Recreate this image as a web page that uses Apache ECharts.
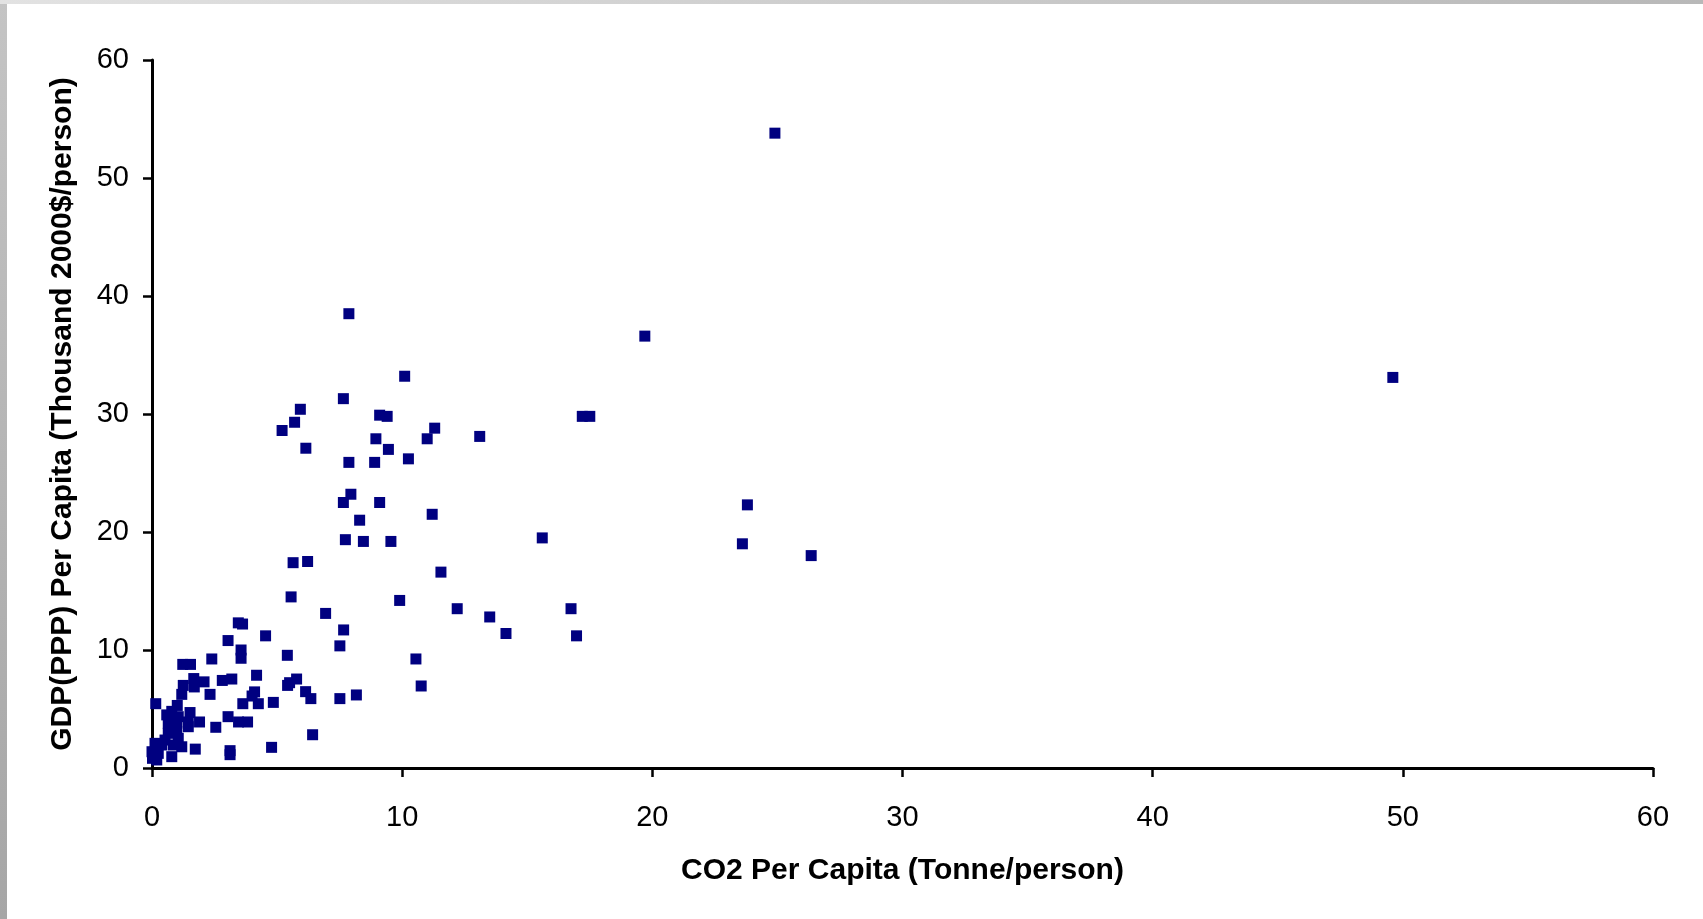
<!DOCTYPE html>
<html>
<head>
<meta charset="utf-8">
<script src="https://cdn.jsdelivr.net/npm/echarts@6/dist/echarts.min.js"></script>
<style>
  html, body { margin: 0; padding: 0; }
  body {
    width: 1703px; height: 919px; overflow: hidden;
    background:
      linear-gradient(to right, #e2e2e2, #b8b8b8) top left / 100% 4px no-repeat,
      linear-gradient(to bottom, #c4c4c4, #a6a6a6) top left / 7px 100% no-repeat,
      #ffffff;
  }
  #scatterChart { width: 1703px; height: 919px; }
</style>
</head>
<body>
<div id="scatterChart"></div>
<script>
// CO2 per capita (tonne/person) vs GDP(PPP) per capita (thousand 2000$/person)
const co2PerCapita = [
  24.9, 49.6, 19.7, 7.87, 10.1, 23.8, 23.6, 26.35, 15.6, 13.1,
  17.2, 17.5, 11.3, 11.0, 10.25, 9.45, 9.4, 9.1, 8.95, 8.9,
  7.87, 7.65, 5.93, 5.7, 5.2, 6.15, 9.1, 7.95, 7.65, 8.3,
  11.2, 7.73, 8.45, 9.55, 5.64, 6.22, 11.55, 5.56, 9.9, 6.94,
  12.2, 13.5, 14.15, 16.75, 16.97, 7.66, 7.51, 10.55, 10.76, 3.45,
  3.62, 4.54, 3.04, 3.56, 3.56, 5.41, 2.39, 1.23, 1.54, 1.67,
  1.25, 1.69, 2.08, 2.81, 3.19, 4.18, 5.42, 5.5, 5.78, 6.14,
  6.35, 7.51, 8.17, 4.1, 4.0, 4.25, 3.63, 4.85, 2.32, 1.19,
  1.01, 0.15, 3.04, 3.46, 3.82, 2.55, 1.52, 1.9, 1.45, 1.45,
  6.42, 1.73, 3.12, 3.12, 4.78, 0.59, 0.79, 1.05, 0.65, 0.99,
  0.65, 0.99, 1.05, 0.52, 0.12, 0.39, 0.85, 1.19, 0.0, 0.25,
  0.79, 0.02, 0.19, 0.79
];
const gdpPerCapita = [
  53.8, 33.1, 36.6, 38.5, 33.2, 22.3, 19.0, 18.0, 19.5, 28.1,
  29.8, 29.8, 28.8, 27.9, 26.2, 27.0, 29.8, 29.9, 27.9, 25.9,
  25.9, 31.3, 30.4, 29.3, 28.6, 27.1, 22.5, 23.2, 22.5, 21.0,
  21.5, 19.35, 19.2, 19.2, 17.4, 17.5, 16.6, 14.5, 14.2, 13.1,
  13.5, 12.8, 11.4, 13.5, 11.2, 11.7, 10.35, 9.24, 6.95, 12.3,
  12.2, 11.2, 10.8, 10.0, 9.3, 9.55, 9.24, 8.78, 8.78, 7.58,
  7.0, 6.87, 7.3, 7.42, 7.54, 7.86, 7.0, 7.23, 7.54, 6.47,
  5.88, 5.88, 6.19, 6.45, 6.1, 5.45, 5.45, 5.56, 6.24, 6.24,
  5.3, 5.45, 4.35, 3.9, 3.9, 3.45, 4.7, 3.9, 3.9, 3.5,
  2.82, 1.6, 1.47, 1.13, 1.75, 4.5, 4.13, 4.35, 3.79, 3.79,
  2.94, 3.08, 2.52, 2.37, 2.09, 1.95, 1.95, 1.8, 1.38, 1.24,
  0.96, 0.82, 0.68, 4.8
];
const axisTicks = [0, 10, 20, 30, 40, 50, 60];

const points = co2PerCapita.map((x, i) => [x, gdpPerCapita[i]]);

const fontFamily = '"Liberation Sans", Arial, sans-serif';
const axisLineStyle = { color: '#000000', width: 3 };

let scatterChart = echarts.init(document.getElementById('scatterChart'));
scatterChart.setOption({
  animation: false,
  backgroundColor: 'transparent',
  grid: {
    left: 152,
    right: 50,
    top: 60,
    bottom: 151
  },
  xAxis: {
    type: 'value',
    min: axisTicks[0],
    max: axisTicks[axisTicks.length - 1],
    interval: 10,
    name: 'CO2 Per Capita (Tonne/person)',
    nameLocation: 'middle',
    nameGap: 88,
    nameTextStyle: { color: '#000', fontSize: 30, fontWeight: 'bold', fontFamily: fontFamily },
    axisLine: { show: true, lineStyle: axisLineStyle },
    axisTick: { show: true, length: 9, lineStyle: { color: '#000', width: 2.5 } },
    axisLabel: { color: '#000', fontSize: 29, fontFamily: fontFamily, margin: 35 },
    splitLine: { show: false }
  },
  yAxis: {
    type: 'value',
    min: axisTicks[0],
    max: axisTicks[axisTicks.length - 1],
    interval: 10,
    name: 'GDP(PPP) Per Capita (Thousand 2000$/person)',
    nameLocation: 'middle',
    nameGap: 74,
    nameTextStyle: { color: '#000', fontSize: 30, fontWeight: 'bold', fontFamily: fontFamily },
    axisLine: { show: true, lineStyle: axisLineStyle },
    axisTick: { show: true, length: 9, lineStyle: { color: '#000', width: 2.5 } },
    axisLabel: { color: '#000', fontSize: 29, fontFamily: fontFamily, margin: 23 },
    splitLine: { show: false }
  },
  series: [
    {
      type: 'scatter',
      symbol: 'rect',
      symbolSize: 11,
      data: points,
      itemStyle: { color: '#000080', opacity: 1 }
    }
  ]
});
</script>
</body>
</html>
